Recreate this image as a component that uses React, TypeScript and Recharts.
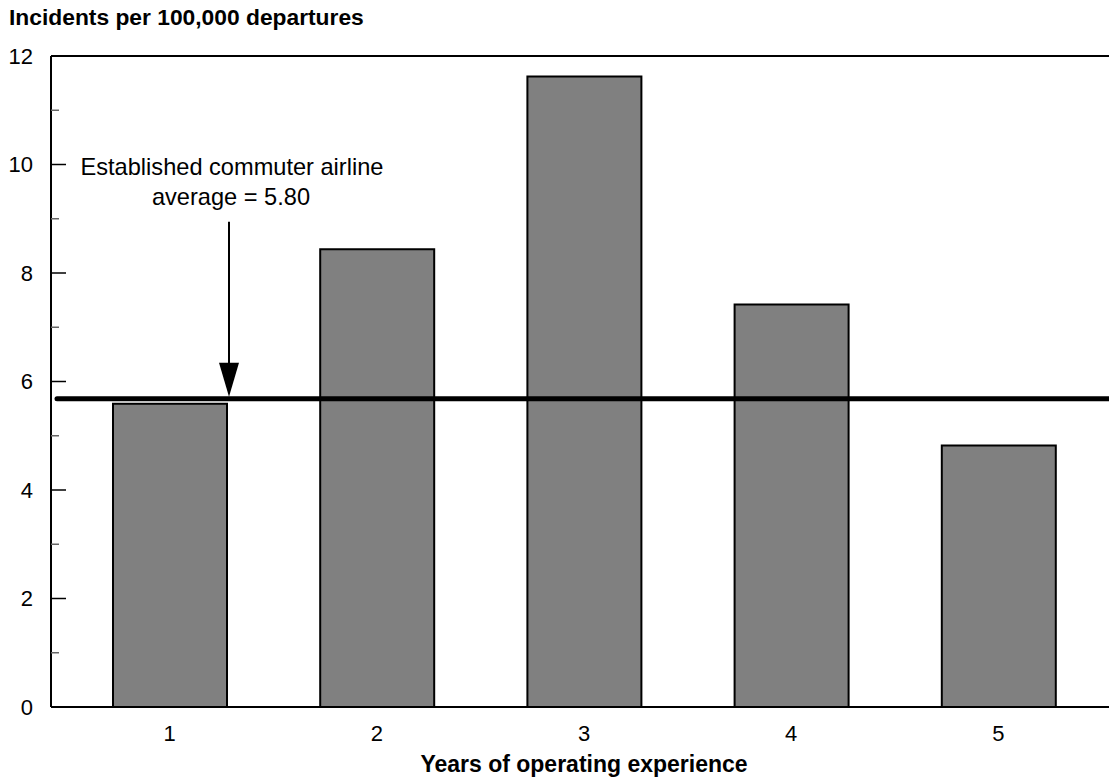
import React from "react";
import { BarChart, Bar, XAxis, YAxis, ReferenceLine } from "recharts";

const YEARS = ["1", "2", "3", "4", "5"];
const RATES = [5.59, 8.44, 11.62, 7.42, 4.82];
const AVERAGE_LINE = 5.68;
const AVERAGE_TEXT = ["Established commuter airline", "average = 5.80"];
const Y_TICKS = [0, 1, 2, 3, 4, 5, 6, 7, 8, 9, 10, 11, 12];
const Y_TITLE = "Incidents per 100,000 departures";
const X_TITLE = "Years of operating experience";

const FONT = '"Liberation Sans", Arial, sans-serif';
const PLOT_LEFT = 51;
const ARROW_X = 229;

const data = YEARS.map((year, i) => ({ year, rate: RATES[i] }));

const YTick = ({ y, payload }: any) => {
  const v = payload.value;
  const major = v % 2 === 0;
  return (
    <g>
      {v > 0 && v < 12 && (
        <line
          x1={PLOT_LEFT}
          x2={PLOT_LEFT + (major ? 15 : 8)}
          y1={y}
          y2={y}
          stroke={major ? "#000" : "#666"}
          strokeWidth={1.5}
        />
      )}
      {major && (
        <text x={33} y={y} dy="0.36em" textAnchor="end" fontSize={22} fill="#000" fontFamily={FONT}>
          {v}
        </text>
      )}
    </g>
  );
};

const XTick = ({ x, payload }: any) => (
  <text x={x} y={741} textAnchor="middle" fontSize={22} fill="#000" fontFamily={FONT}>
    {payload.value}
  </text>
);

const AverageLine = (p: any) => {
  const { y1, x2 } = p;
  return (
    <g>
      <line x1={PLOT_LEFT + 6} x2={x2} y1={y1} y2={y1} stroke="#000" strokeWidth={5} strokeLinecap="round" />
      <line x1={ARROW_X} x2={ARROW_X} y1={y1 - 177} y2={y1 - 34} stroke="#000" strokeWidth={2} />
      <polygon
        points={`${ARROW_X - 10},${y1 - 36} ${ARROW_X + 10},${y1 - 36} ${ARROW_X},${y1 - 2}`}
        fill="#000"
      />
      <text x={232} y={y1 - 224} textAnchor="middle" fontSize={23.6} fill="#000" fontFamily={FONT}>
        {AVERAGE_TEXT[0]}
      </text>
      <text x={231} y={y1 - 194} textAnchor="middle" fontSize={23.6} fill="#000" fontFamily={FONT}>
        {AVERAGE_TEXT[1]}
      </text>
    </g>
  );
};

export default function App() {
  return (
    <div
      style={{
        position: "fixed",
        left: 0,
        top: 0,
        width: 1109,
        height: 778,
        overflow: "hidden",
        background: "#fff",
      }}
    >
      <svg width={1109} height={40} style={{ position: "absolute", left: 0, top: 0 }}>
        <text x={9} y={25} fontSize={22.8} fontWeight="bold" fill="#000" fontFamily={FONT}>
          {Y_TITLE}
        </text>
      </svg>
      <div style={{ position: "absolute", left: 0, top: 0 }}>
        <BarChart
          width={1140}
          height={778}
          data={data}
          margin={{ top: 56, right: 23, left: 0, bottom: 0 }}
          barSize={114}
        >
          <XAxis
            dataKey="year"
            height={71}
            padding={{ left: 15, right: 15 }}
            axisLine={{ stroke: "#000", strokeWidth: 2 }}
            tickLine={false}
            tick={<XTick />}
            interval={0}
            label={() => (
              <text
                x={584}
                y={772}
                textAnchor="middle"
                fontSize={23}
                fontWeight="bold"
                fill="#000"
                fontFamily={FONT}
              >
                {X_TITLE}
              </text>
            )}
          />
          <YAxis
            width={PLOT_LEFT}
            domain={[0, 12]}
            ticks={Y_TICKS}
            interval={0}
            axisLine={{ stroke: "#000", strokeWidth: 2 }}
            tickLine={false}
            tick={<YTick />}
          />
          <ReferenceLine y={12} stroke="#000" strokeWidth={2} />
          <Bar
            dataKey="rate"
            fill="#808080"
            stroke="#000"
            strokeWidth={2}
            isAnimationActive={false}
          />
          <ReferenceLine y={AVERAGE_LINE} shape={<AverageLine />} />
        </BarChart>
      </div>
    </div>
  );
}
